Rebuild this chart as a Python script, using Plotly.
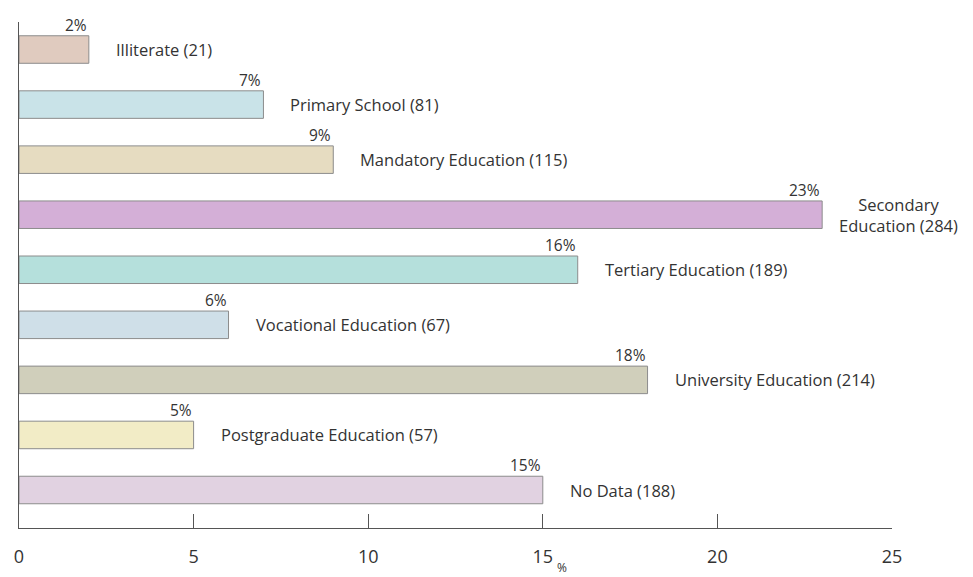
import plotly.graph_objects as go

# data
categories = ["Illiterate", "Primary School", "Mandatory Education",
              "Secondary<br>Education", "Tertiary Education",
              "Vocational Education", "University Education",
              "Postgraduate Education", "No Data"]
counts = [21, 81, 115, 284, 189, 67, 214, 57, 188]
percents = [2, 7, 9, 23, 16, 6, 18, 5, 15]
colors = ["#e0cbbf", "#c9e3e8", "#e6dcc1", "#d4afd7", "#b5e0dc",
          "#cfdfe8", "#d0cfbb", "#f2ecc6", "#e1d2e1"]
x_ticks = [0, 5, 10, 15, 20, 25]

FONT = "Open Sans, Liberation Sans, sans-serif"
TXT = "#333333"

fig = go.Figure()
fig.add_trace(go.Bar(
    y=categories, x=percents, orientation="h",
    marker=dict(color=colors, line=dict(color="#8c8c8c", width=1)),
    hoverinfo="skip", showlegend=False,
))

for cat, n, p in zip(categories, counts, percents):
    # percentage above the end of the bar
    fig.add_annotation(x=p, y=cat, text=f"{p}%", showarrow=False,
                       xanchor="right", yanchor="bottom", yshift=12,
                       font=dict(family=FONT, size=15.5, color=TXT))
    # category label to the right
    wrapped = "<br>" in cat
    fig.add_annotation(x=p, y=cat, text=f"{cat} ({n})", showarrow=False,
                       xanchor="left", yanchor="middle",
                       xshift=15 if wrapped else 25, align="center",
                       font=dict(family=FONT, size=16.5, color=TXT))

fig.add_annotation(x=0.622, y=-0.078, xref="paper", yref="paper", text="%",
                   showarrow=False, yanchor="middle",
                   font=dict(family=FONT, size=12, color=TXT))

# page body adds an 8px margin, so the figure is 8px smaller than the window
fig.update_layout(
    width=965, height=569,
    margin=dict(l=11, r=81, t=14, b=49),
    paper_bgcolor="white", plot_bgcolor="white",
    bargap=0.5,
    font=dict(family=FONT, color=TXT),
)
fig.update_xaxes(range=[0, 25], tickvals=x_ticks, showgrid=False,
                 zeroline=False, showline=True, linecolor="#555555",
                 linewidth=1, ticks="inside", ticklen=14, tickcolor="#555555",
                 ticklabelstandoff=12, automargin=False,
                 tickfont=dict(family=FONT, size=18, color=TXT))
fig.update_yaxes(autorange="reversed", showticklabels=False, showgrid=False,
                 zeroline=False, showline=True, linecolor="#555555",
                 linewidth=1, ticks="", automargin=False)

fig.write_html("out.html")
